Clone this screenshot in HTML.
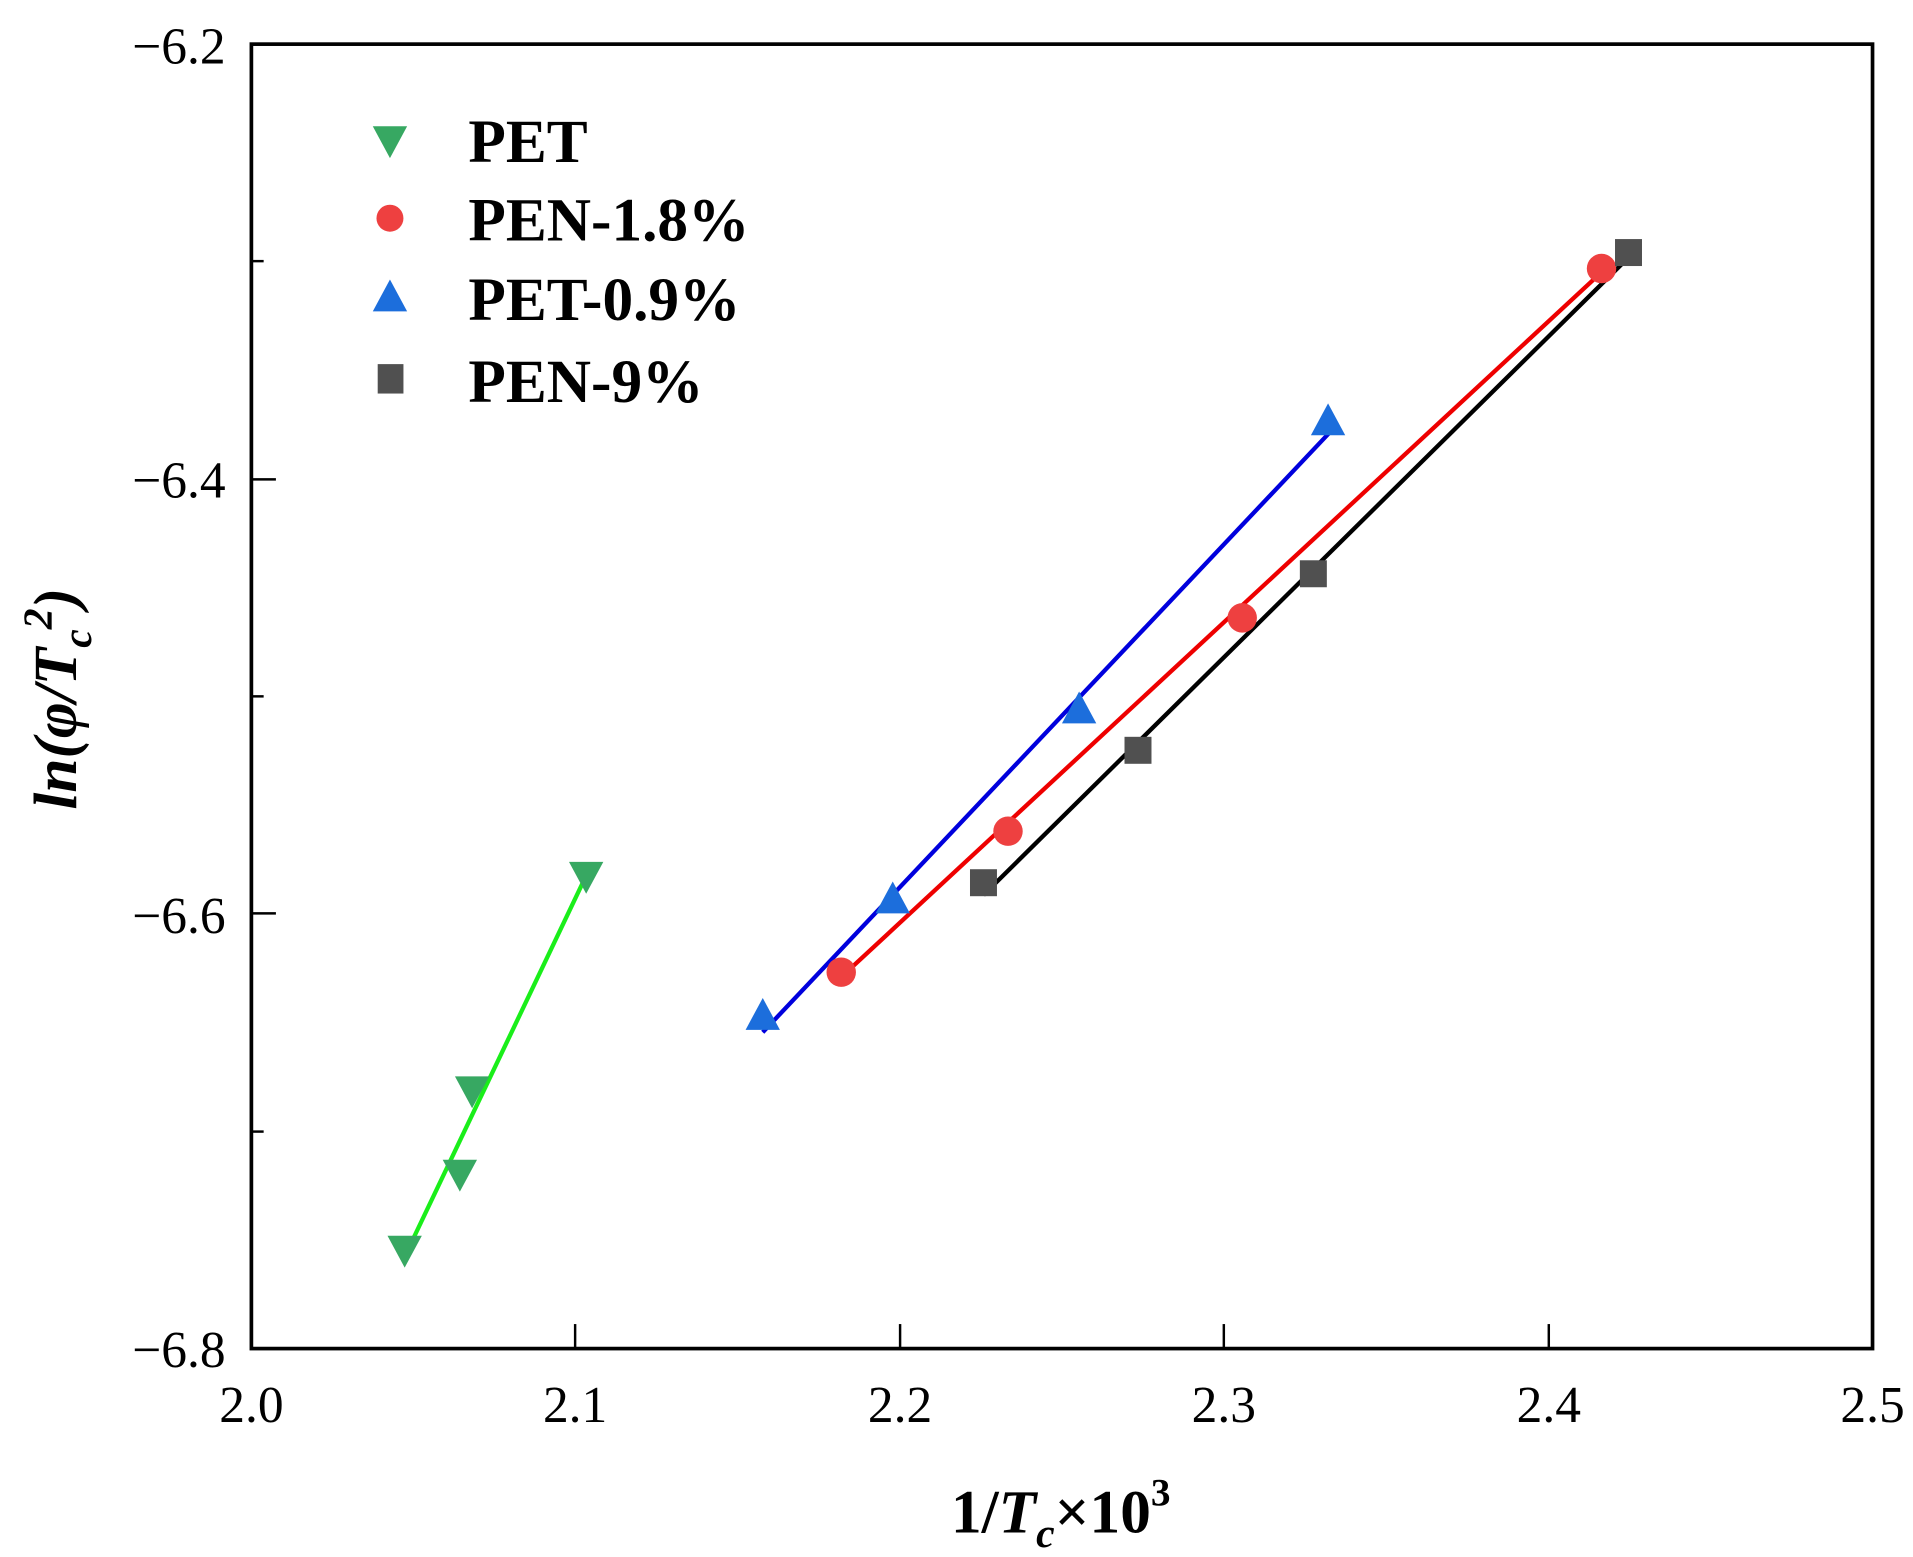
<!DOCTYPE html>
<html><head><meta charset="utf-8"><style>body{margin:0;background:#fff}svg{display:block}</style></head>
<body>
<svg width="1913" height="1557" viewBox="0 0 1560 1270" preserveAspectRatio="none" font-family="'Liberation Serif', serif">
<rect x="0" y="0" width="1560" height="1270" fill="#fff"/>
<g stroke="#000" stroke-width="2">
<line x1="205" y1="1084" x2="205" y2="1100"/><line x1="469" y1="1080" x2="469" y2="1100"/><line x1="734" y1="1080" x2="734" y2="1100"/><line x1="998" y1="1080" x2="998" y2="1100"/><line x1="1263" y1="1080" x2="1263" y2="1100"/>
<line x1="205" y1="213" x2="215" y2="213"/><line x1="205" y1="391" x2="225" y2="391"/><line x1="205" y1="568" x2="215" y2="568"/><line x1="205" y1="745" x2="225" y2="745"/><line x1="205" y1="923" x2="215" y2="923"/>
</g>
<rect x="205" y="36" width="1322" height="1064" fill="none" stroke="#000" stroke-width="3"/>
<g font-size="42" text-anchor="end">
<text x="184" y="52">−6.2</text><text x="184" y="406">−6.4</text><text x="184" y="761">−6.6</text><text x="184" y="1115">−6.8</text>
</g>
<g font-size="42" text-anchor="middle">
<text x="205" y="1160">2.0</text><text x="469" y="1160">2.1</text><text x="734" y="1160">2.2</text><text x="998" y="1160">2.3</text><text x="1263" y="1160">2.4</text><text x="1527" y="1160">2.5</text>
</g>
<text x="865" y="1250" font-size="50" font-weight="bold" text-anchor="middle">1/<tspan font-style="italic">T</tspan><tspan font-style="italic" font-size="34" dy="12">c</tspan><tspan dy="-12">×10</tspan><tspan font-size="32" dy="-22">3</tspan></text>
<text transform="translate(62,570) rotate(-90)" font-size="50" font-weight="bold" font-style="italic" text-anchor="middle">ln(φ/T<tspan font-size="34" dy="12">c</tspan><tspan font-size="34" dy="-32">2</tspan><tspan dy="20">)</tspan></text>
<line x1="330" y1="1025" x2="480" y2="710" stroke="#1aee1a" stroke-width="3.5"/>
<line x1="686" y1="797" x2="1306" y2="222" stroke="#ee0000" stroke-width="3.5"/>
<line x1="622" y1="842" x2="1085" y2="352" stroke="#0000dd" stroke-width="3.5"/>
<line x1="802" y1="730" x2="1328" y2="210" stroke="#000" stroke-width="3.5"/>
<g fill="#37a862">
<polygon points="316,1008 344,1008 330,1034"/><polygon points="361,946 389,946 375,972"/><polygon points="371,878 399,878 385,904"/><polygon points="464,703 492,703 478,729"/>
<polygon points="304,103 332,103 318,129"/>
</g>
<g fill="#ee4040">
<circle cx="686" cy="793" r="12"/><circle cx="822" cy="678" r="12"/><circle cx="1013" cy="504" r="12"/><circle cx="1306" cy="219" r="12"/>
<circle cx="318" cy="178" r="11"/>
</g>
<g fill="#1c6edc">
<polygon points="608,840 636,840 622,814"/><polygon points="714,745 742,745 728,719"/><polygon points="866,590 894,590 880,564"/><polygon points="1069,355 1097,355 1083,329"/>
<polygon points="304,254 332,254 318,228"/>
</g>
<g fill="#505050">
<rect x="791" y="709" width="22" height="22"/><rect x="917" y="601" width="22" height="22"/><rect x="1060" y="457" width="22" height="22"/><rect x="1317" y="195" width="22" height="22"/>
<rect x="308" y="297" width="21" height="24"/>
</g>
<g font-size="50" font-weight="bold">
<text x="382" y="132">PET</text><text x="382" y="196">PEN-1.8%</text><text x="382" y="261">PET-0.9%</text><text x="382" y="328">PEN-9%</text>
</g>
</svg>
</body></html>
